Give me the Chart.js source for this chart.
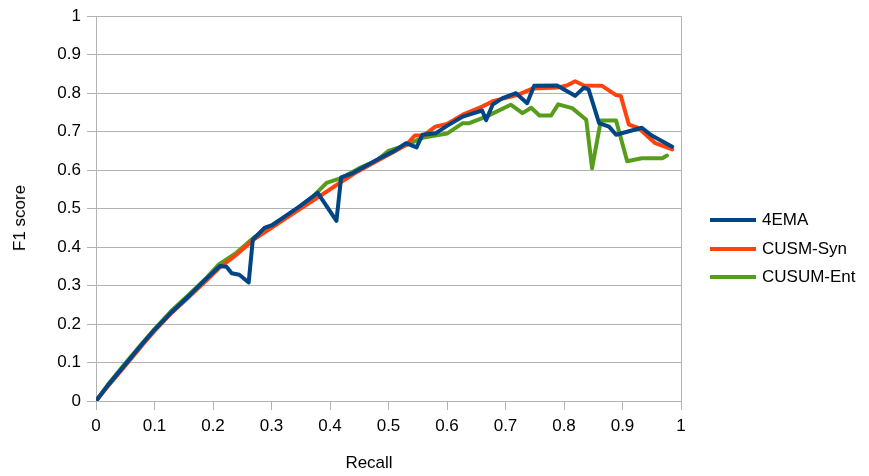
<!DOCTYPE html>
<html>
<head>
<meta charset="utf-8">
<script src="https://cdn.jsdelivr.net/npm/chart.js@4/dist/chart.umd.min.js"></script>
<style>
  body { margin: 0; background: #fff; }
  #wrap { position: relative; width: 869px; height: 476px; font: 17px "Liberation Sans", Arial, sans-serif; color: #000; }
  #legend { position: absolute; left: 710px; top: 206px; }
  .item { display: flex; align-items: center; height: 28.5px; }
  .swatch { width: 46px; height: 4px; margin-right: 6px; }
  .axis-title { position: absolute; white-space: nowrap; line-height: 20px; }
  #xTitle { left: 369px; top: 453px; transform: translateX(-50%); }
  #yTitle { left: 20px; top: 218px; transform: translate(-50%, -50%) rotate(-90deg); }
</style>
</head>
<body>
<div id="wrap">
  <canvas id="chart" width="869" height="476"></canvas>
  <div id="legend"></div>
  <div class="axis-title" id="xTitle"></div>
  <div class="axis-title" id="yTitle"></div>
</div>
<script>
// 4EMA
const emaRecall = [0, 0.02, 0.05, 0.08, 0.1, 0.13, 0.16, 0.19, 0.212, 0.223, 0.232, 0.245, 0.261, 0.268, 0.288, 0.302,
  0.325, 0.348, 0.379, 0.411, 0.419, 0.436, 0.46, 0.485, 0.51, 0.53, 0.548, 0.558, 0.581, 0.6, 0.627, 0.638, 0.66,
  0.667, 0.678, 0.695, 0.718, 0.737, 0.749, 0.788, 0.819, 0.834, 0.842, 0.86, 0.877, 0.889, 0.933, 0.95, 0.985];
const emaF1 = [0, 0.04, 0.095, 0.15, 0.185, 0.232, 0.275, 0.32, 0.351, 0.349, 0.332, 0.328, 0.308, 0.419, 0.45, 0.458,
  0.482, 0.506, 0.541, 0.468, 0.581, 0.59, 0.61, 0.631, 0.65, 0.67, 0.659, 0.692, 0.696, 0.715, 0.739, 0.744, 0.755,
  0.73, 0.77, 0.787, 0.8, 0.774, 0.819, 0.82, 0.793, 0.814, 0.81, 0.722, 0.713, 0.692, 0.71, 0.69, 0.661];

// CUSM-Syn
const synRecall = [0, 0.02, 0.05, 0.08, 0.1, 0.13, 0.16, 0.19, 0.21, 0.24, 0.27, 0.3, 0.34, 0.38, 0.41, 0.44, 0.47,
  0.5, 0.53, 0.545, 0.56, 0.58, 0.6, 0.627, 0.66, 0.68, 0.72, 0.746, 0.79, 0.805, 0.819, 0.834, 0.865, 0.889, 0.897,
  0.911, 0.928, 0.956, 0.985];
const synF1 = [0, 0.038, 0.092, 0.147, 0.182, 0.23, 0.272, 0.315, 0.345, 0.38, 0.42, 0.45, 0.49, 0.53, 0.56, 0.59, 0.615,
  0.64, 0.665, 0.69, 0.69, 0.713, 0.72, 0.744, 0.765, 0.78, 0.795, 0.812, 0.815, 0.82, 0.831, 0.82, 0.819, 0.795, 0.793,
  0.718, 0.709, 0.67, 0.654];

// CUSUM-Ent
const entRecall = [0, 0.02, 0.05, 0.08, 0.1, 0.13, 0.16, 0.19, 0.21, 0.24, 0.27, 0.3, 0.34, 0.37, 0.394, 0.42, 0.45,
  0.48, 0.5, 0.53, 0.56, 0.6, 0.627, 0.638, 0.667, 0.709, 0.729, 0.744, 0.758, 0.778, 0.79, 0.814, 0.838, 0.848, 0.863,
  0.889, 0.908, 0.933, 0.968, 0.976];
const entF1 = [0, 0.042, 0.098, 0.152, 0.187, 0.236, 0.278, 0.322, 0.355, 0.385, 0.425, 0.455, 0.495, 0.53, 0.567, 0.58,
  0.605, 0.625, 0.65, 0.665, 0.685, 0.695, 0.722, 0.722, 0.739, 0.77, 0.748, 0.762, 0.742, 0.742, 0.771, 0.761, 0.731,
  0.605, 0.729, 0.729, 0.623, 0.631, 0.631, 0.638];

const seriesNames = ['4EMA', 'CUSM-Syn', 'CUSUM-Ent'];
const seriesColors = ['#004586', '#ff420e', '#579d1c'];
const xTitleText = 'Recall';
const yTitleText = 'F1 score';

const gridColor = '#b3b3b3';
const font = { family: '"Liberation Sans", Arial, sans-serif', size: 17 };

function toPoints(xs, ys) {
    return xs.map((x, i) => ({ x: x, y: ys[i] }));
}

// 0 -> "0", 0.30000000000000004 -> "0.3", 1 -> "1"
const tickLabel = v => String(Math.round(v * 10) / 10);

const datasets = [
    toPoints(emaRecall, emaF1),
    toPoints(synRecall, synF1),
    toPoints(entRecall, entF1)
].map((pts, i) => ({
    label: seriesNames[i],
    data: pts,
    borderColor: seriesColors[i],
    backgroundColor: seriesColors[i],
    borderWidth: 4,
    borderJoinStyle: 'round',
    borderCapStyle: 'round',
    pointRadius: 0,
    tension: 0,
    fill: false
}));

// right edge line of the plot
const frameLine = {
    id: 'frameLine',
    afterDatasetsDraw(chart) {
        const { ctx, chartArea } = chart;
        ctx.save();
        ctx.strokeStyle = gridColor;
        ctx.lineWidth = 1;
        ctx.beginPath();
        ctx.moveTo(Math.round(chartArea.right) + 0.5, chartArea.top);
        ctx.lineTo(Math.round(chartArea.right) + 0.5, chartArea.bottom);
        ctx.stroke();
        ctx.restore();
    }
};

new Chart(document.getElementById('chart').getContext('2d'), {
    type: 'line',
    data: { datasets: datasets },
    options: {
        responsive: false,
        animation: false,
        layout: { padding: { top: 14, right: 188, bottom: 0, left: 0 } },
        plugins: { legend: { display: false }, tooltip: { enabled: false } },
        scales: {
            x: {
                type: 'linear',
                min: 0,
                max: 1,
                ticks: { stepSize: 0.1, color: '#000', font: font, padding: 6, maxRotation: 0, callback: tickLabel },
                grid: { drawOnChartArea: false, color: gridColor, tickLength: 9 },
                border: { color: gridColor },
                afterFit: s => { s.height = 75; }
            },
            y: {
                min: 0,
                max: 1,
                ticks: { stepSize: 0.1, color: '#000', font: font, padding: 6, callback: tickLabel },
                grid: { color: gridColor, tickLength: 9 },
                border: { color: gridColor },
                afterFit: s => { s.width = 96; }
            }
        }
    },
    plugins: [frameLine]
});

// axis titles sit off-centre in the original, so they are placed by hand
document.getElementById('xTitle').textContent = xTitleText;
document.getElementById('yTitle').textContent = yTitleText;

// legend built from the datasets
const legend = document.getElementById('legend');
datasets.forEach(ds => {
    const item = document.createElement('div');
    item.className = 'item';
    item.innerHTML = `<div class="swatch" style="background:${ds.borderColor}"></div><span>${ds.label}</span>`;
    legend.appendChild(item);
});
</script>
</body>
</html>
